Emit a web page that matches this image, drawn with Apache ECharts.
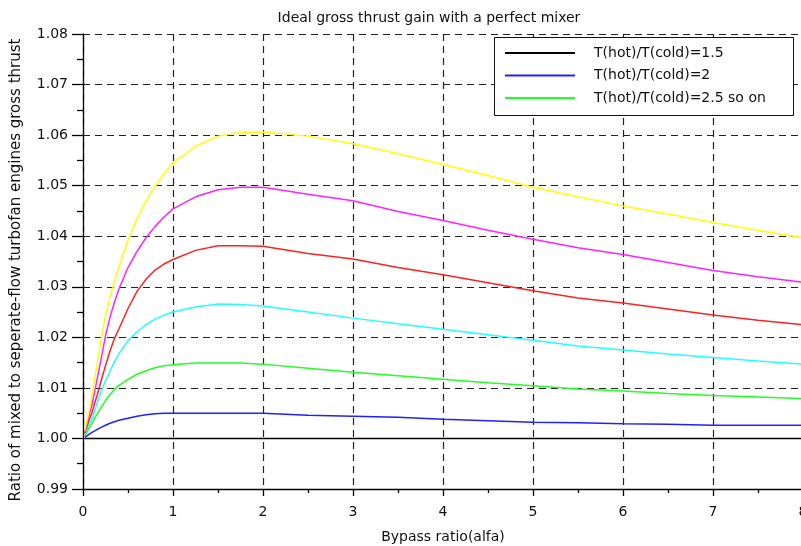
<!DOCTYPE html>
<html>
<head>
<meta charset="utf-8">
<script src="https://cdn.jsdelivr.net/npm/echarts@6/dist/echarts.min.js"></script>
<style>
  html, body { margin: 0; padding: 0; background: #fff; }
  #chart { width: 801px; height: 546px; }
</style>
</head>
<body>
<div id="chart"></div>
<script>
// Bypass ratio samples (alfa)
const alfa = [0.02, 0.05, 0.075, 0.1, 0.13, 0.16, 0.2, 0.25, 0.3, 0.35, 0.4, 0.5, 0.6, 0.7,
  0.8, 0.9, 1.0, 1.25, 1.5, 1.75, 2.0, 2.5, 3.0, 3.5, 4.0, 4.5, 5.0, 5.5, 6.0, 6.5, 7.0, 7.5, 8.0];

// Mixed / separate-flow gross thrust ratio, one list per temperature ratio
const ratioT15 = [1.0, 1.0, 1.0, 1.0, 1.0, 1.0, 1.0, 1.0, 1.0, 1.0, 1.0, 1.0, 1.0, 1.0,
  1.0, 1.0, 1.0, 1.0, 1.0, 1.0, 1.0, 1.0, 1.0, 1.0, 1.0, 1.0, 1.0, 1.0, 1.0, 1.0, 1.0, 1.0, 1.0];
const ratioT20 = [1.0002, 1.0006, 1.0009, 1.0012, 1.0015, 1.0018, 1.0022, 1.0026, 1.003, 1.0033,
  1.0036, 1.004, 1.0044, 1.0047, 1.0049, 1.005, 1.005, 1.005, 1.005, 1.005, 1.005, 1.0046,
  1.0044, 1.0042, 1.0038, 1.0035, 1.0032, 1.0031, 1.0029, 1.0028, 1.0026, 1.0026, 1.0026];
const ratioT25 = [1.0005, 1.0015, 1.0023, 1.003, 1.004, 1.0049, 1.0061, 1.0075, 1.0087, 1.0097,
  1.0105, 1.0117, 1.0127, 1.0134, 1.014, 1.0144, 1.0146, 1.0149, 1.0149, 1.0149, 1.0147, 1.0139,
  1.0131, 1.0124, 1.0117, 1.011, 1.0104, 1.0098, 1.0094, 1.0089, 1.0085, 1.0082, 1.0079];
const ratioT30 = [1.0008, 1.002, 1.003, 1.0039, 1.0055, 1.0072, 1.0093, 1.0114, 1.0133, 1.0152,
  1.0168, 1.0193, 1.0211, 1.0225, 1.0236, 1.0244, 1.025, 1.026, 1.0266, 1.0265, 1.0262, 1.025,
  1.0238, 1.0227, 1.0216, 1.0205, 1.0194, 1.0183, 1.0175, 1.0167, 1.016, 1.0153, 1.0147];
const ratioT35 = [1.001, 1.0027, 1.004, 1.0051, 1.007, 1.0087, 1.0113, 1.0144, 1.0173, 1.0198,
  1.0217, 1.0257, 1.0291, 1.0315, 1.0333, 1.0345, 1.0354, 1.0372, 1.0381, 1.0381, 1.038, 1.0366,
  1.0355, 1.0338, 1.0324, 1.0308, 1.0292, 1.0278, 1.0268, 1.0256, 1.0244, 1.0234, 1.0225];
const ratioT40 = [1.0013, 1.0035, 1.005, 1.0067, 1.0093, 1.012, 1.0156, 1.0203, 1.024, 1.027,
  1.0296, 1.0338, 1.037, 1.0397, 1.0419, 1.0438, 1.0454, 1.0478, 1.0492, 1.0497, 1.0497, 1.0483,
  1.047, 1.0449, 1.0431, 1.0412, 1.0394, 1.0377, 1.0364, 1.0348, 1.0332, 1.032, 1.0309];
const ratioT45 = [1.0015, 1.004, 1.006, 1.0085, 1.0117, 1.015, 1.0195, 1.0243, 1.028, 1.0312,
  1.034, 1.0392, 1.0435, 1.047, 1.0498, 1.0523, 1.0545, 1.0578, 1.0598, 1.0605, 1.0606, 1.0598,
  1.0583, 1.0563, 1.0542, 1.052, 1.0497, 1.0478, 1.046, 1.0444, 1.0427, 1.0412, 1.0397];

const legendNames = ['T(hot)/T(cold)=1.5', 'T(hot)/T(cold)=2', 'T(hot)/T(cold)=2.5 so on'];

const curves = [
  { name: 'T(hot)/T(cold)=1.5', values: ratioT15, color: '#000000', width: 1.6 },
  { name: 'T(hot)/T(cold)=2', values: ratioT20, color: '#2020ff', width: 1.5 },
  { name: 'T(hot)/T(cold)=2.5 so on', values: ratioT25, color: '#22ff22', width: 1.5 },
  { name: 'T(hot)/T(cold)=3', values: ratioT30, color: '#22ffff', width: 1.5 },
  { name: 'T(hot)/T(cold)=3.5', values: ratioT35, color: '#ff2020', width: 1.5 },
  { name: 'T(hot)/T(cold)=4', values: ratioT40, color: '#ff22ff', width: 1.5 },
  { name: 'T(hot)/T(cold)=4.5', values: ratioT45, color: '#ffff00', width: 1.5 }
];

const FONT = 'DejaVu Sans';
const chart = echarts.init(document.getElementById('chart'), null, { renderer: 'canvas' });

chart.setOption({
  backgroundColor: '#ffffff',
  animation: false,
  title: {
    text: 'Ideal gross thrust gain with a perfect mixer',
    left: 424,
    top: 6,
    textAlign: 'center',
    textStyle: { fontFamily: FONT, fontSize: 14, fontWeight: 'normal', color: '#111' }
  },
  grid: { left: 83, top: 34, width: 720, height: 455, containLabel: false, outerBoundsMode: 'none' },
  graphic: [{
    type: 'rect',
    z: 3,
    shape: { x: 494.5, y: 37.5, width: 299, height: 78 },
    style: { fill: '#ffffff', stroke: '#111', lineWidth: 1 }
  }],
  legend: {
    data: legendNames,
    orient: 'vertical',
    left: 505,
    top: 46,
    padding: 0,
    z: 5,
    icon: 'rect',
    itemWidth: 70,
    itemHeight: 2,
    itemGap: 8.5,
    textStyle: {
      fontFamily: FONT, fontSize: 14, lineHeight: 14, color: '#111',
      padding: [0, 0, 0, 14]
    }
  },
  xAxis: {
    type: 'value',
    min: 0,
    max: 8,
    interval: 1,
    name: 'Bypass ratio(alfa)',
    nameLocation: 'middle',
    nameGap: 41,
    nameTextStyle: { fontFamily: FONT, fontSize: 14, color: '#111' },
    axisLine: { show: true, lineStyle: { color: '#000', width: 1.3 } },
    axisTick: { show: true, length: 7, lineStyle: { color: '#000', width: 1.3 } },
    minorTick: { show: true, splitNumber: 2, length: 4, lineStyle: { color: '#000', width: 1.3 } },
    axisLabel: { fontFamily: FONT, fontSize: 14, color: '#111', margin: 16 },
    splitLine: { show: true, lineStyle: { color: '#222', width: 1.2, type: [7, 5] } }
  },
  yAxis: {
    type: 'value',
    min: 0.99,
    max: 1.08,
    interval: 0.01,
    name: 'Ratio of mixed to seperate-flow turbofan engines gross thrust',
    nameLocation: 'middle',
    nameGap: 59,
    nameTextStyle: { fontFamily: FONT, fontSize: 15, color: '#111', padding: [0, 17, 0, 0] },
    axisLine: { show: true, lineStyle: { color: '#000', width: 1.3 } },
    axisTick: { show: true, length: 11, lineStyle: { color: '#000', width: 1.3 } },
    minorTick: { show: true, splitNumber: 2, length: 6, lineStyle: { color: '#000', width: 1.3 } },
    axisLabel: {
      fontFamily: FONT, fontSize: 14, color: '#111', margin: 15,
      formatter: v => v.toFixed(2)
    },
    splitLine: { show: true, lineStyle: { color: '#222', width: 1.2, type: [7, 5] } }
  },
  series: curves.map(c => ({
    name: c.name,
    type: 'line',
    symbol: 'none',
    smooth: false,
    data: alfa.map((a, i) => [a, c.values[i]]),
    lineStyle: { color: c.color, width: c.width },
    itemStyle: { color: c.color },
    z: 2
  }))
});
</script>
</body>
</html>
